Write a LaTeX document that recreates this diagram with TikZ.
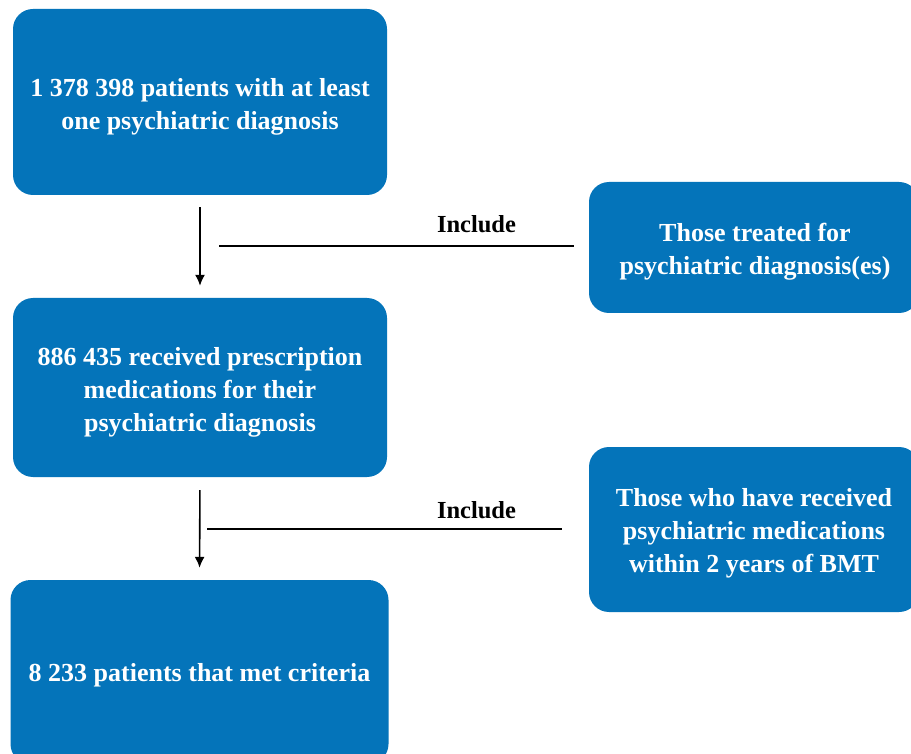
\documentclass[tikz,border=0pt]{standalone}
\usepackage{fontspec}
\setmainfont{Liberation Serif}
\usetikzlibrary{arrows.meta}
\definecolor{boxblue}{HTML}{0474BA}
\tikzset{
  bluebox/.style={fill=boxblue, draw=none, rounded corners=20pt, inner sep=0pt},
  boxtext/.style={text=white, font=\fontsize{26}{33}\selectfont\bfseries,
    align=center, inner sep=0pt},
  flowarrow/.style={line width=1.6pt, -{Latex[length=11pt,width=10pt]}},
  incline/.style={line width=1.6pt},
  inclabel/.style={font=\fontsize{24.5}{30}\selectfont\bfseries, text=black, inner sep=0pt}
}
\begin{document}
\begin{tikzpicture}[x=1pt,y=-1pt]
\useasboundingbox (0,0) rectangle (911,754);
\clip (0,0) rectangle (911,754);
\fill[white] (0,0) rectangle (911,754);
\node[bluebox, minimum width=374pt, minimum height=186pt] (b1) at (200,102) {};
\node[bluebox, minimum width=374pt, minimum height=179pt] (b2) at (200,387.5) {};
\node[bluebox, minimum width=378pt, minimum height=184pt] (b3) at (199.5,672) {};
\node[bluebox, minimum width=330pt, minimum height=131pt] (r1) at (754,247.5) {};
\node[bluebox, minimum width=330pt, minimum height=165pt] (r2) at (754,529.5) {};
\node[boxtext] (t1) at ([yshift=-5pt]b1.center)
  {1 378 398 patients with at least\\one psychiatric diagnosis};
\node[boxtext] (t2) at ([yshift=-4.5pt]b2.center)
  {886 435 received prescription\\medications for their\\psychiatric diagnosis};
\node[boxtext] (t3) at ([yshift=-3pt]b3.center)
  {8 233 patients that met criteria};
\node[boxtext] (t4) at ([yshift=-4pt,xshift=1pt]r1.center)
  {Those treated for\\psychiatric diagnosis(es)};
\node[boxtext] (t5) at ([yshift=-4pt]r2.center)
  {Those who have received\\psychiatric medications\\within 2 years of BMT};
\coordinate (l1) at (219,246);
\coordinate (l2) at (207,529);
\draw[flowarrow, shorten <=12pt, shorten >=12pt] (b1.south) -- (b2.north);
\draw[flowarrow, shorten <=13pt, shorten >=12pt] (b2.south) -- (b3.north);
\draw[incline, shorten <=15pt] (r1.west |- l1) -- (l1);
\draw[incline, shorten <=27pt] (r2.west |- l2) -- (l2);
\node[inclabel, anchor=base] (i1) at (476.5,233) {Include};
\node[inclabel, anchor=base] (i2) at (476.5,518) {Include};
\end{tikzpicture}
\end{document}
